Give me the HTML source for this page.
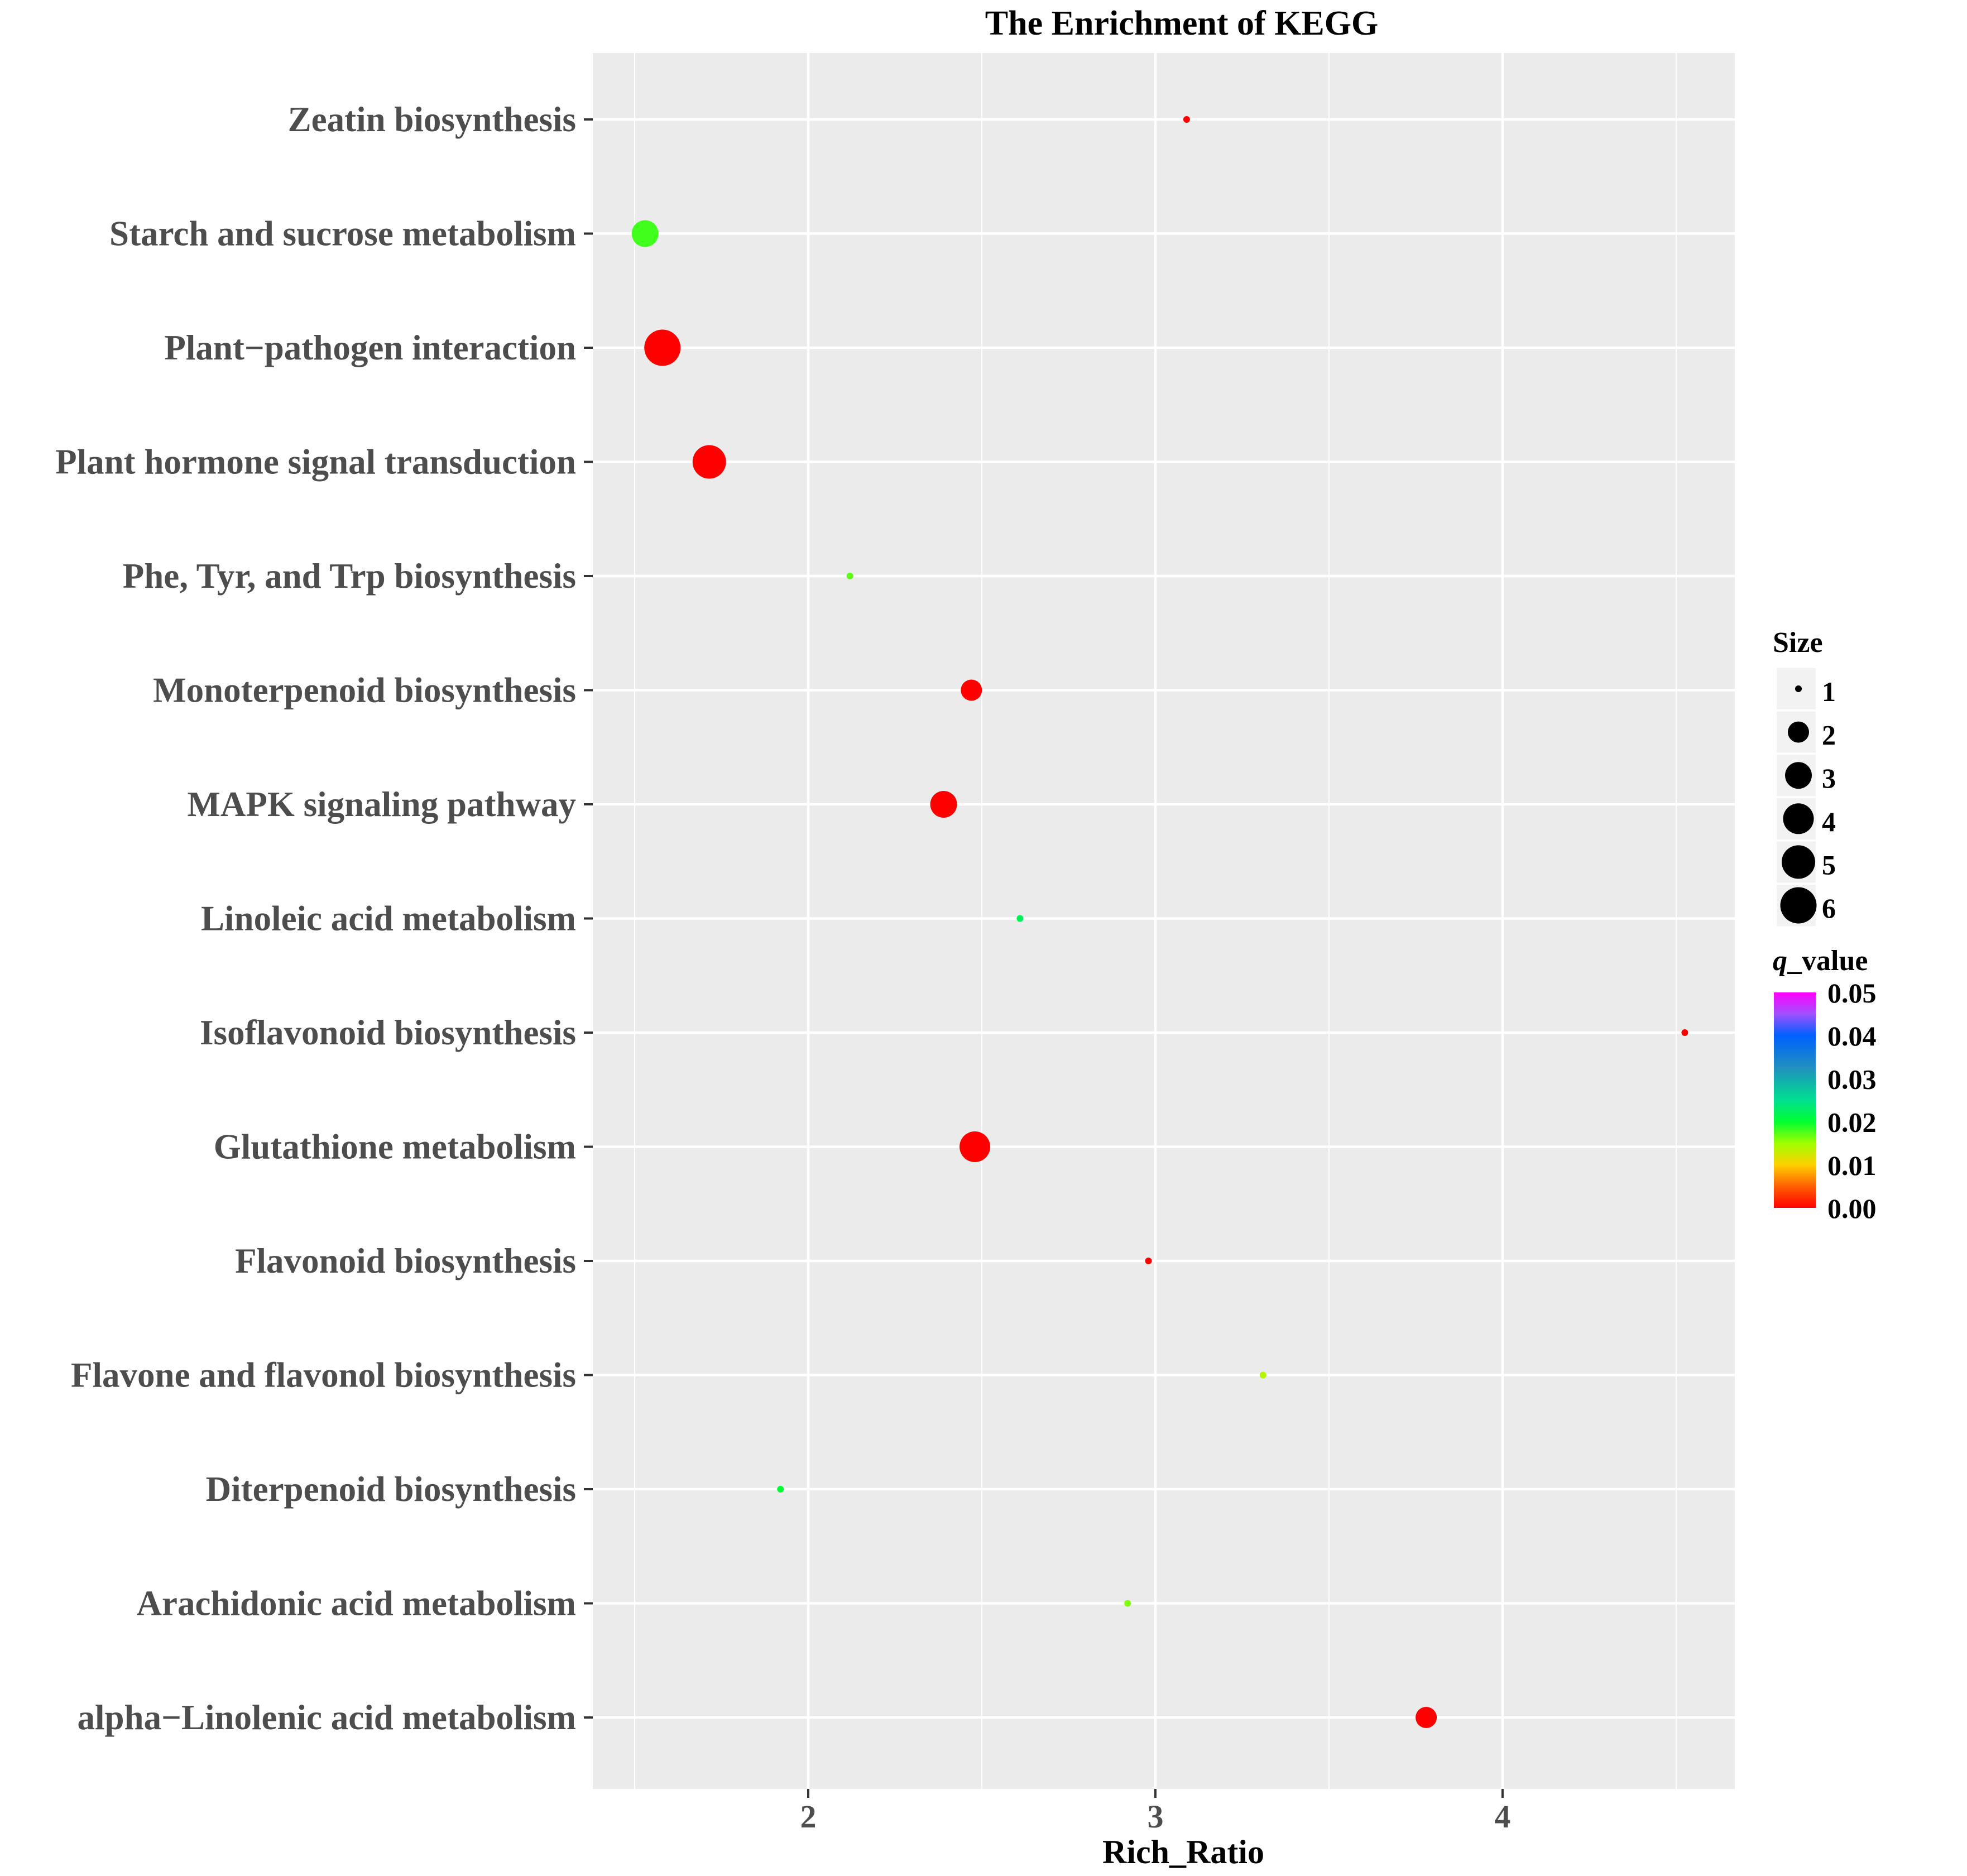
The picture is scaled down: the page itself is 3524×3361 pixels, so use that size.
<!DOCTYPE html>
<html><head><meta charset="utf-8"><style>
html,body{margin:0;padding:0;background:#fff}
svg{display:block}
text{font-family:"Liberation Serif",serif;font-weight:bold}
</style></head><body>
<svg id="chart" width="3524" height="3361" viewBox="0 0 3524 3361" xmlns="http://www.w3.org/2000/svg">
<defs>
<linearGradient id="qgrad" x1="0" y1="1" x2="0" y2="0">
<stop offset="0" stop-color="#FF0000"/><stop offset="0.1" stop-color="#FF6000"/><stop offset="0.2" stop-color="#FFD000"/><stop offset="0.3" stop-color="#A0FF00"/><stop offset="0.4" stop-color="#00FF30"/><stop offset="0.5" stop-color="#00E090"/><stop offset="0.65" stop-color="#2090C0"/><stop offset="0.8" stop-color="#0060FF"/><stop offset="0.9" stop-color="#A050FF"/><stop offset="1" stop-color="#FF00FF"/>
</linearGradient>
</defs>
<text x="2117" y="62" font-size="62" text-anchor="middle" fill="#000">The Enrichment of KEGG</text>
<rect x="1062" y="95" width="2046" height="3110" fill="#EBEBEB"/>
<g id="grid"></g>
<g id="yaxis"></g>
<g id="xaxis"></g>
<g id="points"></g>
<text x="2120" y="3338" font-size="60" text-anchor="middle" fill="#000">Rich_Ratio</text>
<g id="legend-size">
<text x="3176" y="1168" font-size="52" fill="#000">Size</text>
</g>
<g id="legend-q">
<text x="3176" y="1738" font-size="52" fill="#000"><tspan font-style="italic">q</tspan>_value</text>
<rect x="3178" y="1778" width="75" height="386" fill="url(#qgrad)"/>
</g>
</svg>
<script>
const categories = ["Zeatin biosynthesis","Starch and sucrose metabolism","Plant\u2212pathogen interaction","Plant hormone signal transduction","Phe, Tyr, and Trp biosynthesis","Monoterpenoid biosynthesis","MAPK signaling pathway","Linoleic acid metabolism","Isoflavonoid biosynthesis","Glutathione metabolism","Flavonoid biosynthesis","Flavone and flavonol biosynthesis","Diterpenoid biosynthesis","Arachidonic acid metabolism","alpha\u2212Linolenic acid metabolism"];
const richRatio = [3.09,1.53,1.58,1.715,2.12,2.47,2.39,2.61,4.525,2.48,2.98,3.31,1.92,2.92,3.78];
const sizes = [1,3,6,5,1,2,3,1,1,4,1,1,1,1,2];
const qValues = [0.0,0.018,0.0,0.0,0.017,0.0,0.0,0.022,0.0,0.0,0.0,0.014,0.02,0.016,0.0];
const xTicks = [2,3,4];
const xMinor = [1.5,2.5,3.5,4.5];
const sizeLegend = [1,2,3,4,5,6];
const qTicks = [0.05,0.04,0.03,0.02,0.01,0.00];

const NS="http://www.w3.org/2000/svg";
const X0=1062,X1=3108,XMIN=1.3794,XMAX=4.669;
const Y0=95,Y1=3205;
function xs(v){return X0+(v-XMIN)/(XMAX-XMIN)*(X1-X0);}
function ys(i){return 214+i*204.5;}
function rs(s){return [0,6,19,24,27.5,30,32.5][s]||6;}
function qy(q){return 2164-q/0.05*386;}
const stops=[[0,[255,0,0]],[0.005,[255,96,0]],[0.01,[255,208,0]],[0.015,[160,255,0]],[0.02,[0,255,48]],[0.025,[0,224,144]],[0.0325,[32,144,192]],[0.04,[0,96,255]],[0.045,[160,80,255]],[0.05,[255,0,255]]];
function qc(q){for(let i=1;i<stops.length;i++){if(q<=stops[i][0]){const a=stops[i-1],b=stops[i];const t=(q-a[0])/(b[0]-a[0]);const c=a[1].map((v,k)=>Math.round(v+(b[1][k]-v)*t));return `rgb(${c.join(',')})`;}}return "rgb(255,0,255)";}
function mk(tag,attrs,parent){const e=document.createElementNS(NS,tag);for(const k in attrs)e.setAttribute(k,attrs[k]);parent.appendChild(e);return e;}

const grid=document.getElementById('grid');
xMinor.forEach(v=>{const l=mk('line',{x1:xs(v),x2:xs(v),y1:Y0,y2:Y1,stroke:'#fff','stroke-width':2},grid);

});
xTicks.forEach(v=>{const l=mk('line',{x1:xs(v),x2:xs(v),y1:Y0,y2:Y1,stroke:'#fff','stroke-width':4.5},grid);

});
categories.forEach((c,i)=>{const l=mk('line',{x1:X0,x2:X1,y1:ys(i),y2:ys(i),stroke:'#fff','stroke-width':4.5},grid);

});

const ya=document.getElementById('yaxis');
categories.forEach((c,i)=>{
const t=mk('line',{x1:1046,x2:X0,y1:ys(i),y2:ys(i),stroke:'#333','stroke-width':4},ya);


const tx=mk('text',{x:1032,y:ys(i)+21,'font-size':63,'text-anchor':'end',fill:'#4D4D4D'},ya);
tx.textContent=c;

});

const xa=document.getElementById('xaxis');
xTicks.forEach(v=>{
const t=mk('line',{x1:xs(v),x2:xs(v),y1:Y1,y2:Y1+16,stroke:'#333','stroke-width':4},xa);


const tx=mk('text',{x:xs(v),y:3274,'font-size':58,'text-anchor':'middle',fill:'#4D4D4D'},xa);
tx.textContent=String(v);

});

const pts=document.getElementById('points');
categories.forEach((c,i)=>{
const p=mk('circle',{cx:xs(richRatio[i]),cy:ys(i),r:rs(sizes[i]),fill:qc(qValues[i])},pts);

});

const ls=document.getElementById('legend-size');
sizeLegend.forEach((s,i)=>{const cy=1234+i*77.6;
const b=mk('rect',{x:3183,y:cy-37,width:70,height:74,fill:'#F2F2F2'},ls);


const c=mk('circle',{cx:3222,cy:cy,r:rs(s),fill:'#000'},ls);


const t=mk('text',{x:3264,y:cy+22,'font-size':50,fill:'#000'},ls);
t.textContent=String(s);

});

const lq=document.getElementById('legend-q');
qTicks.forEach(q=>{
const t=mk('text',{x:3274,y:qy(q)+18,'font-size':50,fill:'#000'},lq);
t.textContent=q.toFixed(2);

});
</script>
</body></html>
